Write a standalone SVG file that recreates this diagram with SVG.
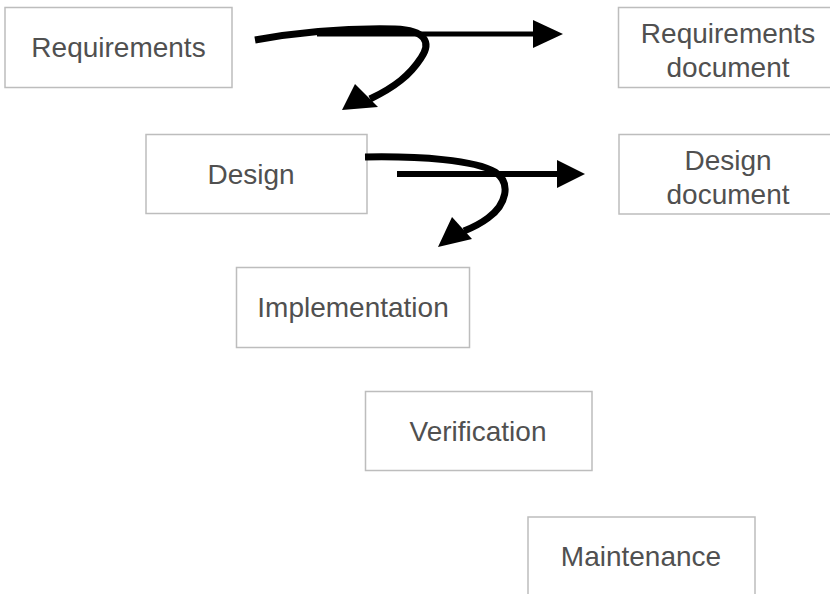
<svg xmlns="http://www.w3.org/2000/svg" width="830" height="594" viewBox="0 0 830 594">
  <style>
    .box { fill: #ffffff; stroke: #bdbdbd; stroke-width: 1.5; }
    .label { font-family: "Liberation Sans", Arial, sans-serif; font-size: 28px; fill: #505050; text-anchor: middle; }
    .flow { fill: none; stroke: #000000; stroke-linecap: butt; }
    .head { fill: #000000; stroke: none; }
  </style>
  <rect width="830" height="594" fill="#ffffff"/>

  <g id="requirements">
    <rect class="box" x="5" y="7.5" width="227" height="80"/>
    <text class="label" x="118.5" y="57">Requirements</text>
  </g>

  <g id="requirements-document">
    <rect class="box" x="618.5" y="7.5" width="230" height="80"/>
    <text class="label" x="728" y="43">Requirements</text>
    <text class="label" x="728" y="77">document</text>
  </g>

  <g id="design">
    <rect class="box" x="146" y="134.5" width="221" height="79"/>
    <text class="label" x="251" y="184">Design</text>
  </g>

  <g id="design-document">
    <rect class="box" x="619" y="134.5" width="230" height="79.5"/>
    <text class="label" x="728" y="170">Design</text>
    <text class="label" x="728" y="204">document</text>
  </g>

  <g id="implementation">
    <rect class="box" x="236.5" y="267.5" width="233" height="80"/>
    <text class="label" x="353" y="317">Implementation</text>
  </g>

  <g id="verification">
    <rect class="box" x="365.5" y="391.5" width="226.5" height="79"/>
    <text class="label" x="478" y="441">Verification</text>
  </g>

  <g id="maintenance">
    <rect class="box" x="528" y="517" width="227" height="85"/>
    <text class="label" x="641" y="566">Maintenance</text>
  </g>

  <g id="connectors">
    <!-- requirements: output to document, flow down to design -->
    <path class="flow" stroke-width="5" d="M317,34 L536,34"/>
    <polygon class="head" points="533,20 563,34 533,48"/>
    <path class="flow" stroke-width="7" d="M255,40 C300,32 350,28 395,29 C425,30 432,42 421,58 C410,75 395,87 370,99"/>
    <polygon class="head" points="342,110 355,84 378,107"/>

    <!-- design: output to document, flow down to implementation -->
    <path class="flow" stroke-width="6" d="M397,174 L559,174"/>
    <polygon class="head" points="557,160 585,174 557,188"/>
    <path class="flow" stroke-width="7" d="M365,157 C420,156 475,160 495,172 C512,183 506,205 488,218 C480,224 474,227 464,231"/>
    <polygon class="head" points="438,247 452,217 472,239"/>
  </g>
</svg>
